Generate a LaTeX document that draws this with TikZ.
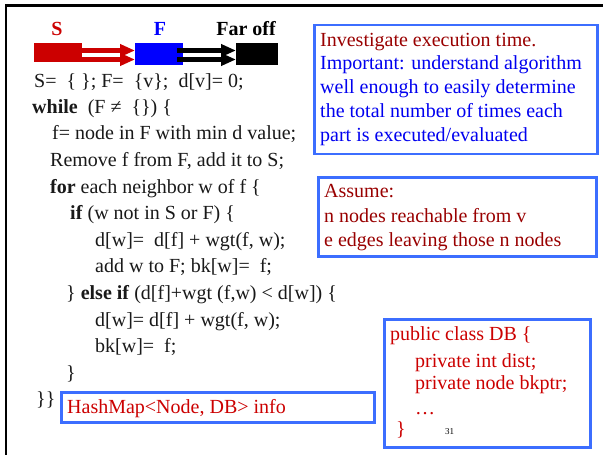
\documentclass[tikz,border=0pt]{standalone}
\usepackage{fontspec}
\setmainfont{Liberation Serif}
\usetikzlibrary{arrows.meta}
\definecolor{darkred}{RGB}{153,0,0}
\definecolor{brightred}{RGB}{204,0,0}
\definecolor{txtblue}{RGB}{0,0,240}
\definecolor{boxblue}{RGB}{60,110,255}
\definecolor{codeblack}{RGB}{25,25,25}
\tikzset{
  codeline/.style={anchor=base west, inner sep=0pt, text=codeblack, font=\fontsize{20}{24}\selectfont},
  boxtext/.style={anchor=base west, inner sep=0pt, font=\fontsize{20}{24}\selectfont},
  infobox/.style={draw=boxblue, line width=2.8pt, anchor=north west, inner sep=0pt},
  barbox/.style={inner sep=0pt, anchor=north west},
  redarr/.style={draw=brightred, line width=5pt, -{Triangle[length=15pt,width=12pt]}},
  blkarr/.style={draw=black, line width=5pt, -{Triangle[length=15pt,width=12pt]}},
  barlabel/.style={anchor=base, inner sep=0pt, font=\fontsize{20}{24}\selectfont\bfseries},
}
\begin{document}
\begin{tikzpicture}[x=1pt,y=-1pt]
\useasboundingbox (0,0) rectangle (603,455);
\fill[white] (0,0) rectangle (603,455);
% frame
\draw[line width=2.6pt, black] (6,455) -- (6,5.5) -- (603,5.5);

% bars
\node[barbox, fill=brightred, minimum width=48pt, minimum height=19pt] (sbar) at (34,43) {};
\node[barbox, fill=blue, minimum width=48pt, minimum height=22pt] (fbar) at (135,43) {};
\node[barbox, fill=black, minimum width=42pt, minimum height=22pt] (obar) at (236,43) {};
\coordinate (ra) at (0,50.5);
\coordinate (rb) at (0,59.5);
\draw[redarr] (sbar.east |- ra) -- (fbar.west |- ra);
\draw[redarr] (sbar.east |- rb) -- (fbar.west |- rb);
\coordinate (bs) at (177,0);
\draw[blkarr] (bs |- ra) -- (obar.west |- ra);
\draw[blkarr] (bs |- rb) -- (obar.west |- rb);
\node[barlabel, text=brightred] (slab) at (57,35) {S};
\node[barlabel, text=blue] (flab) at (160,35) {F};
\node[barlabel, text=black] (olab) at (246,35) {Far off};

% code
\node[codeline] (c1) at (34,87) {S=\ \ \{ \};\ F=\ \ \{v\};\ \ d[v]=\ 0;};
\node[codeline] (c2) at (32,113) {\textbf{while}\ \ (F ≠\ \ \{\})\ \{};
\node[codeline] (c3) at (52,139) {f= node in F with min d value;};
\node[codeline] (c4) at (50,166) {Remove f from F, add it to S;};
\node[codeline] (c5) at (50,193) {\textbf{for} each neighbor w of f \{};
\node[codeline] (c6) at (70,219) {\textbf{if} (w not in S or F) \{};
\node[codeline] (c7) at (95,246) {d[w]=\ \ d[f] + wgt(f, w);};
\node[codeline] (c8) at (95,272) {add w to F; bk[w]=\ \ f;};
\node[codeline] (c9) at (66,299) {\} \textbf{else if} (d[f]+wgt (f,w) < d[w]) \{};
\node[codeline] (c10) at (95,326) {d[w]= d[f] + wgt(f, w);};
\node[codeline] (c11) at (95,352) {bk[w]=\ \ f;};
\node[codeline] (c12) at (66,379) {\}};
\node[codeline] (c13) at (36,405) {\}\}};

% box 1
\node[infobox, minimum width=283pt, minimum height=129pt] (b1) at (313,23.5) {};
\node[boxtext, text=darkred] (b1l1) at (320,46) {Investigate execution time.};
\node[boxtext, text=txtblue] (b1l2) at (320,69.5) {Important: understand algorithm};
\node[boxtext, text=txtblue] (b1l3) at (320,93.5) {well enough to easily determine};
\node[boxtext, text=txtblue] (b1l4) at (320,117.5) {the total number of times each};
\node[boxtext, text=txtblue] (b1l5) at (320,141) {part is executed/evaluated};

% box 2
\node[infobox, minimum width=278pt, minimum height=79pt] (b2) at (317,176) {};
\node[boxtext, text=darkred] (b2l1) at (324,197) {Assume:};
\node[boxtext, text=darkred] (b2l2) at (324,222) {n nodes reachable from v};
\node[boxtext, text=darkred] (b2l3) at (324,246.5) {e edges leaving those n nodes};

% box 3
\node[infobox, minimum width=206pt, minimum height=128pt] (b3) at (383,318) {};
\node[boxtext, text=brightred] (b3l1) at (390,340) {public class DB \{};
\node[boxtext, text=brightred] (b3l2) at (415,367) {private int dist;};
\node[boxtext, text=brightred] (b3l3) at (415,389) {private node bkptr;};
\node[boxtext, text=brightred] (b3l4) at (415,414) {…};
\node[boxtext, text=brightred] (b3l5) at (396,435) {\}};
\node[anchor=base west, inner sep=0pt, font=\fontsize{9}{10}\selectfont] (pnum) at (445,434) {31};

% box 4
\node[infobox, minimum width=313pt, minimum height=30pt] (b4) at (60,391) {};
\node[boxtext, text=brightred] (b4l1) at (67,413) {HashMap<Node, DB> info};
\end{tikzpicture}
\end{document}
